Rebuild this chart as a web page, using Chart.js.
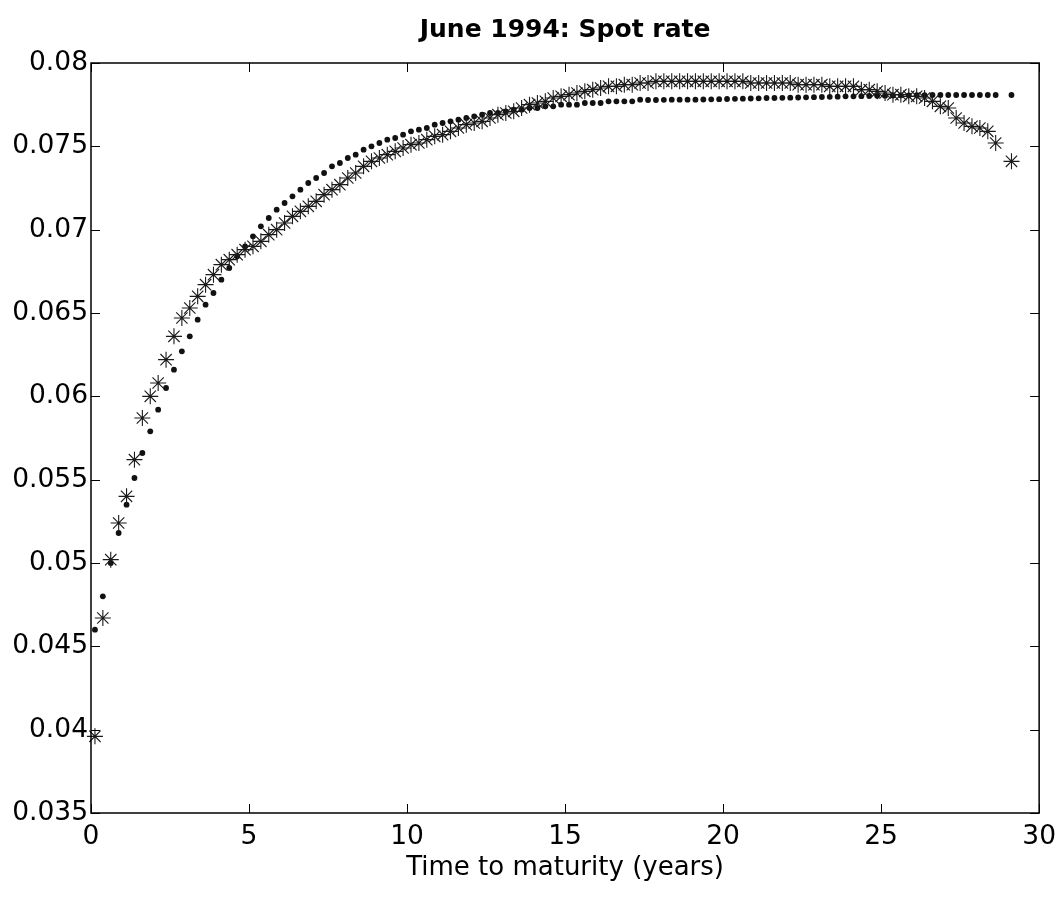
<!DOCTYPE html>
<html>
<head>
<meta charset="utf-8">
<script src="https://cdn.jsdelivr.net/npm/chart.js@4.4.1/dist/chart.umd.min.js"></script>
<style>
html,body{margin:0;padding:0;background:#fff;}
#wrap{width:1064px;height:898px;}
</style>
</head>
<body>
<div id="wrap"><canvas id="c" width="1064" height="898"></canvas></div>
<script>
// Time to maturity (years)
const maturities = [
  0.125,0.375,0.625,0.875,1.125,1.375,1.625,1.875,2.125,2.375,
  2.625,2.875,3.125,3.375,3.625,3.875,4.125,4.375,4.625,4.875,
  5.125,5.375,5.625,5.875,6.125,6.375,6.625,6.875,7.125,7.375,
  7.625,7.875,8.125,8.375,8.625,8.875,9.125,9.375,9.625,9.875,
  10.125,10.375,10.625,10.875,11.125,11.375,11.625,11.875,12.125,12.375,
  12.625,12.875,13.125,13.375,13.625,13.875,14.125,14.375,14.625,14.875,
  15.125,15.375,15.625,15.875,16.125,16.375,16.625,16.875,17.125,17.375,
  17.625,17.875,18.125,18.375,18.625,18.875,19.125,19.375,19.625,19.875,
  20.125,20.375,20.625,20.875,21.125,21.375,21.625,21.875,22.125,22.375,
  22.625,22.875,23.125,23.375,23.625,23.875,24.125,24.375,24.625,24.875,
  25.125,25.375,25.625,25.875,26.125,26.375,26.625,26.875,27.125,27.375,
  27.625,27.875,28.125,28.375,28.625,29.125
];
// Dotted series
const dotRates = [
  0.0460,0.0480,0.0500,0.0518,0.0535,0.0551,0.0566,0.0579,0.0592,0.0605,
  0.0616,0.0627,0.0636,0.0646,0.0655,0.0662,0.0670,0.0677,0.0684,0.0690,
  0.0696,0.0702,0.0707,0.0712,0.0716,0.0720,0.0724,0.0728,0.0731,0.0734,
  0.0738,0.0740,0.0743,0.0745,0.0748,0.0750,0.0752,0.0754,0.0755,0.0757,
  0.0759,0.0760,0.0761,0.0763,0.0764,0.0765,0.0766,0.0767,0.0768,0.0769,
  0.0770,0.0770,0.0771,0.0772,0.0772,0.0773,0.0773,0.0774,0.0774,0.0775,
  0.0775,0.0775,0.0776,0.0776,0.0776,0.0777,0.0777,0.0777,0.0777,0.0778,
  0.07778,0.07778,0.07779,0.0778,0.0778,0.0778,0.0778,0.07781,0.07782,0.07783,
  0.07784,0.07785,0.07786,0.07787,0.07788,0.0779,0.0779,0.07791,0.07792,0.07793,
  0.07794,0.07795,0.07796,0.07797,0.07798,0.0780,0.0780,0.07801,0.07802,0.07803,
  0.07804,0.07805,0.07806,0.07806,0.07807,0.07807,0.07808,0.07808,0.07808,0.07808,
  0.07808,0.07808,0.07808,0.07808,0.07808,0.07808
];
// Star series
const starRates = [
  0.0396,0.0467,0.0502,0.0524,0.0540,0.0562,0.0587,0.0600,0.0608,0.0622,
  0.0636,0.0647,0.0653,0.0660,0.0667,0.0673,0.0679,0.0682,0.0685,0.0688,
  0.0690,0.0693,0.0697,0.0700,0.0704,0.0708,0.0711,0.0714,0.0717,0.0721,
  0.0724,0.0727,0.0731,0.0734,0.0738,0.0741,0.0743,0.0745,0.0747,0.0749,
  0.0751,0.0752,0.0754,0.0756,0.0757,0.0759,0.0761,0.0763,0.0764,0.0765,
  0.0767,0.0769,0.0770,0.0771,0.0773,0.0775,0.0776,0.0777,0.0779,0.0780,
  0.0781,0.0782,0.0783,0.0784,0.0785,0.0786,0.0786,0.0787,0.0787,0.0788,
  0.0788,0.0789,0.0789,0.0789,0.0789,0.0789,0.0789,0.0789,0.0789,0.0789,
  0.0789,0.0789,0.0789,0.0788,0.0788,0.0788,0.0788,0.0788,0.0788,0.0787,
  0.0787,0.0787,0.0787,0.0786,0.0786,0.0786,0.0786,0.0784,0.0784,0.0783,
  0.0782,0.0781,0.0781,0.0780,0.0780,0.0779,0.0777,0.0774,0.0773,0.0767,
  0.0764,0.0762,0.0761,0.0759,0.0752,0.0741
];
const xTicks = [0,5,10,15,20,25,30];
const yTicks = [0.035,0.04,0.045,0.05,0.055,0.06,0.065,0.07,0.075,0.08];
const yTickLabels = ['0.035','0.04','0.045','0.05','0.055','0.06','0.065','0.07','0.075','0.08'];
const xTickLabels = ['0','5','10','15','20','25','30'];
const chartTitle = 'June 1994: Spot rate';
const xTitle = 'Time to maturity (years)';

const FONT = 'DejaVu Sans';

// Title centred over the plot area (as in the reference)
const plotTitle = {
  id: 'plotTitle',
  afterDraw(chart) {
    const {ctx, chartArea: a} = chart;
    ctx.save();
    ctx.fillStyle = '#000';
    ctx.font = 'bold 25px "' + FONT + '"';
    ctx.textAlign = 'center';
    ctx.textBaseline = 'middle';
    ctx.fillText(chartTitle, (a.left + a.right) / 2, 30);
    ctx.restore();
  }
};

const frameTicks = {
  id: 'frameTicks',
  afterDraw(chart) {
    const {ctx, chartArea: a, scales: {x, y}} = chart;
    ctx.save();
    ctx.strokeStyle = '#000';
    ctx.lineWidth = 1.5;
    ctx.strokeRect(a.left, a.top, a.right - a.left, a.bottom - a.top);
    ctx.lineWidth = 1;
    const L = 9;
    ctx.beginPath();
    xTicks.forEach(v => {
      const px = Math.round(x.getPixelForValue(v)) + 0.5;
      ctx.moveTo(px, a.bottom); ctx.lineTo(px, a.bottom - L);
      ctx.moveTo(px, a.top); ctx.lineTo(px, a.top + L);
    });
    yTicks.forEach(v => {
      const py = Math.round(y.getPixelForValue(v)) + 0.5;
      ctx.moveTo(a.left, py); ctx.lineTo(a.left + L, py);
      ctx.moveTo(a.right, py); ctx.lineTo(a.right - L, py);
    });
    ctx.stroke();
    ctx.restore();
  }
};

new Chart(document.getElementById('c'), {
  type: 'scatter',
  data: {
    datasets: [
      {
        label: 'stars',
        data: maturities.map((m, i) => ({x: m, y: starRates[i]})),
        pointStyle: 'star',
        pointRadius: 8,
        pointHoverRadius: 8,
        borderColor: '#1a1a1a',
        backgroundColor: 'rgba(0,0,0,0)',
        pointBorderWidth: 1.1,
        showLine: false,
        clip: false
      },
      {
        label: 'dots',
        data: maturities.map((m, i) => ({x: m, y: dotRates[i]})),
        pointStyle: 'circle',
        pointRadius: 2.9,
        pointHoverRadius: 2.9,
        backgroundColor: '#111',
        borderColor: '#111',
        pointBorderWidth: 0,
        showLine: false,
        clip: false
      }
    ]
  },
  options: {
    responsive: false,
    animation: false,
    devicePixelRatio: 1,
    layout: {padding: {left: 0, right: 22, top: 63, bottom: 0}},
    plugins: {
      legend: {display: false},
      tooltip: {enabled: false},
      title: {display: false}
    },
    scales: {
      x: {
        type: 'linear',
        min: 0, max: 30,
        grid: {display: false, drawTicks: false},
        border: {display: false},
        afterBuildTicks: s => { s.ticks = xTicks.map(v => ({value: v})); },
        ticks: {
          color: '#000',
          font: {family: FONT, size: 26.5},
          padding: 8,
          maxRotation: 0,
          autoSkip: false,
          callback: (v) => xTickLabels[xTicks.indexOf(v)]
        },
        title: {
          display: true,
          text: xTitle,
          color: '#000',
          font: {family: FONT, size: 26},
          padding: {top: -8, bottom: 14}
        }
      },
      y: {
        type: 'linear',
        min: 0.035, max: 0.08,
        grid: {display: false, drawTicks: false},
        border: {display: false},
        afterBuildTicks: s => { s.ticks = yTicks.map(v => ({value: v})); },
        afterFit: s => { s.width = 91; },
        ticks: {
          color: '#000',
          font: {family: FONT, size: 26.5},
          padding: 3,
          autoSkip: false,
          callback: (v) => {
            const i = yTicks.findIndex(t => Math.abs(t - v) < 1e-9);
            return i >= 0 ? yTickLabels[i] : '';
          }
        }
      }
    }
  },
  plugins: [frameTicks, plotTitle]
});
</script>
</body>
</html>
